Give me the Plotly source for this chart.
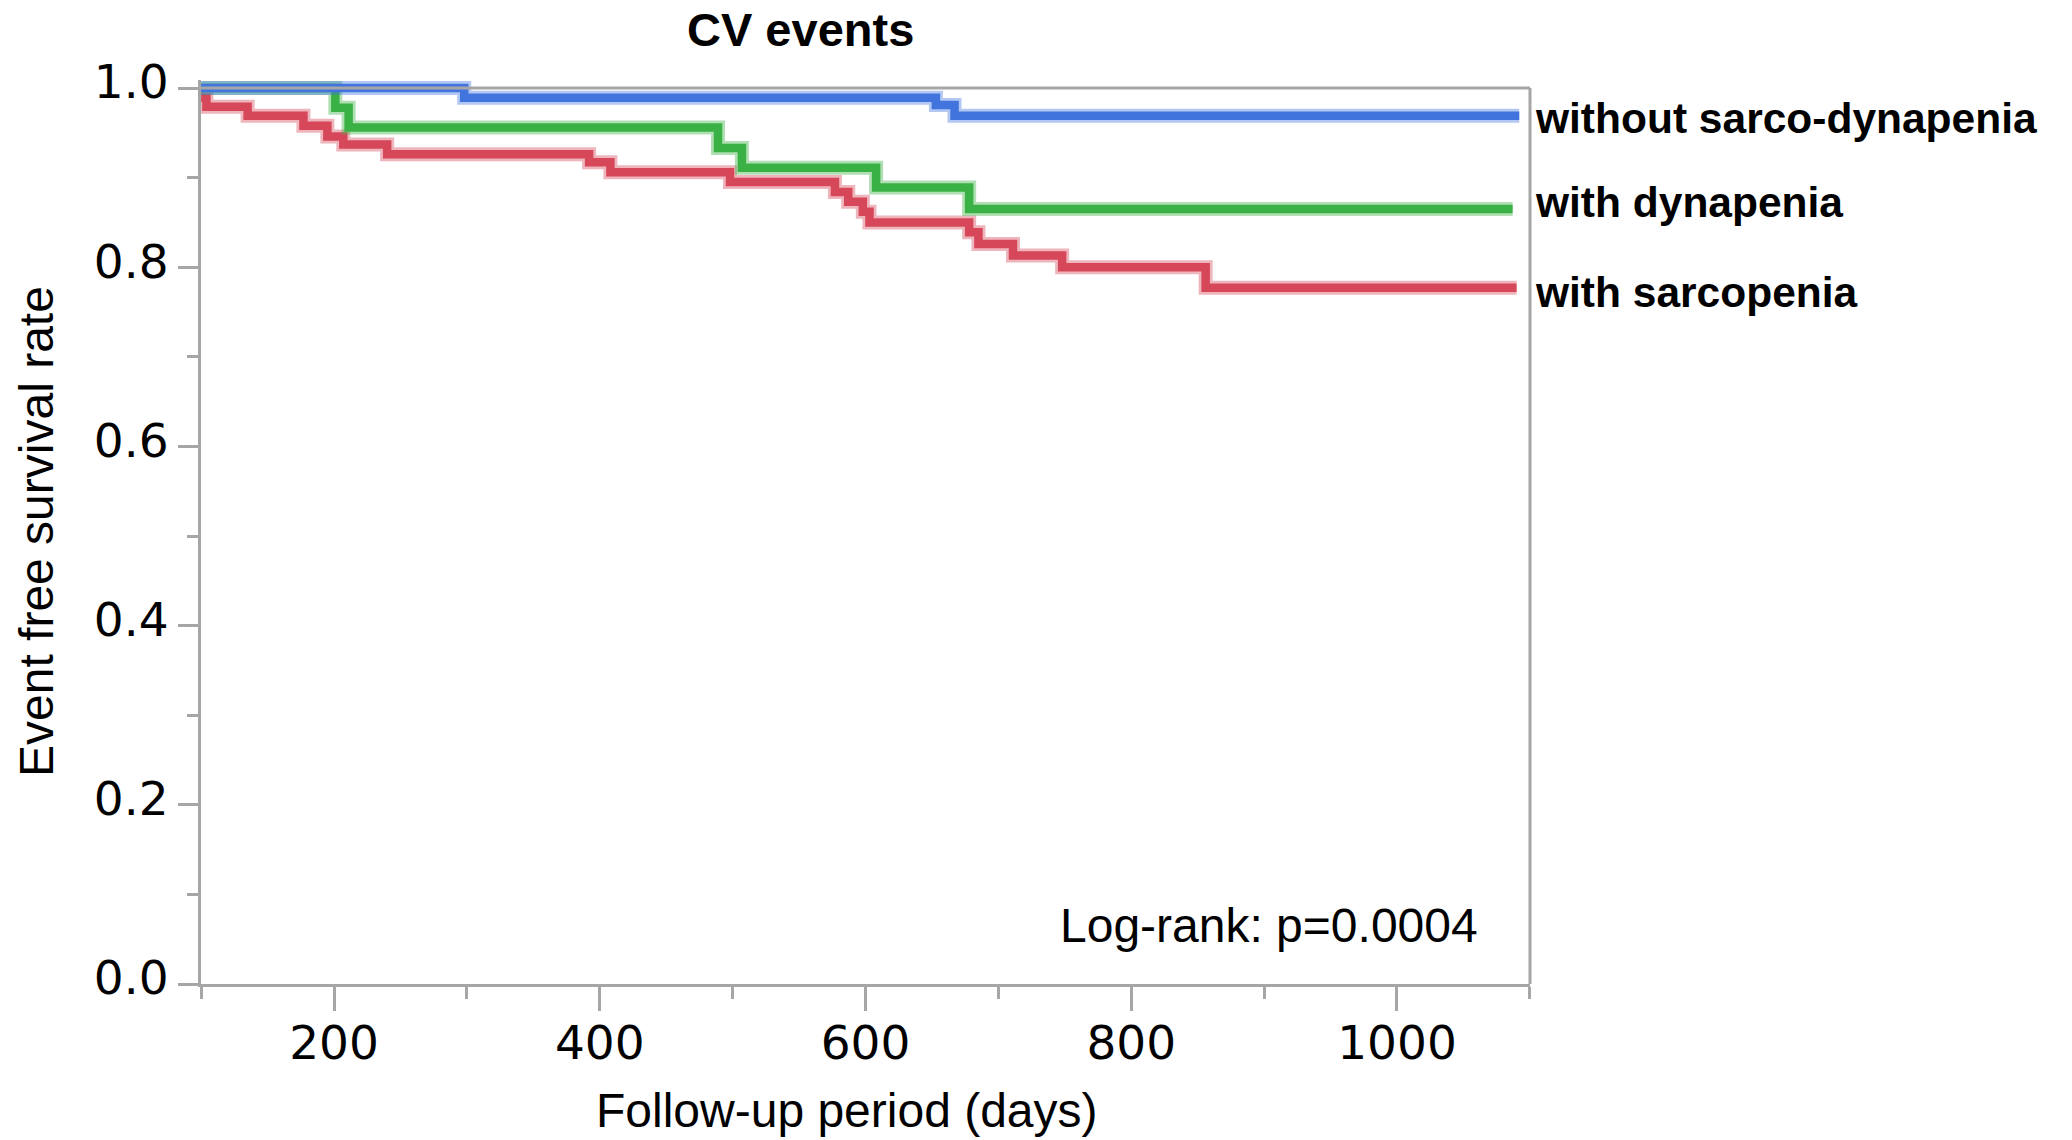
import plotly.graph_objects as go

# ---- data ----
blue_days = [100, 298, 653, 667, 1092]
blue_surv = [1.000, 0.989, 0.981, 0.969, 0.969]

green_days = [100, 201, 211, 489, 507, 608, 678, 1087]
green_surv = [1.000, 0.978, 0.956, 0.933, 0.911, 0.889, 0.865, 0.865]

red_days = [100, 104, 135, 177, 195, 207, 240, 392, 408, 498, 577, 587, 598, 603,
            678, 685, 711, 748, 856, 1090]
red_surv = [0.989, 0.979, 0.969, 0.958, 0.946, 0.937, 0.926, 0.917, 0.906, 0.895,
            0.884, 0.873, 0.862, 0.850, 0.839, 0.826, 0.813, 0.800, 0.777, 0.777]

group_names = ["without sarco-dynapenia", "with dynapenia", "with sarcopenia"]
title_text = "CV events"
x_title = "Follow-up period (days)"
y_title = "Event free survival rate"
logrank_text = "Log-rank: p=0.0004"

# ---- layout geometry (pixels; body margin removed in the page) ----
W, H = 2072, 1140
L, R, T, B = 201, 2072 - 1530, 80, 1140 - 984
PW, PH = W - L - R, H - T - B
Y_TOP = PH / 896.0  # 1.0 lands 896 px above the x axis


def px(X):
    return (X - L) / PW


def py(Y):
    return (H - B - Y) / PH


GRAY = "#a6a6a6"
BLUE = "#4274DE"
GREEN = "#3AB144"
RED = "#D64859"

fig = go.Figure()
for days, surv, col in [(red_days, red_surv, RED), (green_days, green_surv, GREEN),
                        (blue_days, blue_surv, BLUE)]:
    fig.add_trace(go.Scatter(x=days, y=surv, mode="lines", line_shape="hv",
                             line=dict(color=col, width=14), opacity=0.4,
                             hoverinfo="skip", showlegend=False))
    fig.add_trace(go.Scatter(x=days, y=surv, mode="lines", line_shape="hv",
                             line=dict(color=col, width=8.5), showlegend=False))

tickfont = dict(family="DejaVu Sans", size=47, color="#000000")

fig.update_layout(
    width=W, height=H,
    margin=dict(l=L, r=R, t=T, b=B, autoexpand=False),
    paper_bgcolor="white", plot_bgcolor="white",
    xaxis=dict(range=[99.9, 1100.1], tick0=0, dtick=200, showgrid=False, zeroline=False,
               showline=True, linecolor=GRAY, linewidth=3,
               ticks="outside", ticklen=24, tickwidth=3, tickcolor=GRAY,
               tickfont=tickfont, ticklabelstandoff=-8,
               minor=dict(tick0=0, dtick=100, ticks="outside", ticklen=12,
                          tickwidth=3, tickcolor=GRAY, showgrid=False)),
    yaxis=dict(range=[0, Y_TOP], tick0=0, dtick=0.2, tickformat=".1f",
               showgrid=False, zeroline=False,
               showline=True, linecolor=GRAY, linewidth=3,
               ticks="outside", ticklen=20, tickwidth=3, tickcolor=GRAY,
               tickfont=tickfont, ticklabelstandoff=0, ticklabelshift=-6,
               minor=dict(tick0=0, dtick=0.1, ticks="outside", ticklen=11,
                          tickwidth=3, tickcolor=GRAY, showgrid=False)),
    shapes=[
        dict(type="line", xref="paper", yref="y", x0=0, x1=1, y0=1.0, y1=1.0,
             line=dict(color=GRAY, width=3), layer="above"),
        dict(type="line", xref="paper", yref="y", x0=1, x1=1, y0=0, y1=1.0,
             line=dict(color=GRAY, width=3), layer="above"),
    ],
)

ann = []
ann.append(dict(text="<b>" + title_text + "</b>", x=px(800), y=py(29), xref="paper", yref="paper",
                xanchor="center", yanchor="middle", showarrow=False,
                font=dict(family="Liberation Sans", size=47, color="#000000")))
ann.append(dict(text=x_title, x=px(847), y=py(1110), xref="paper", yref="paper",
                xanchor="center", yanchor="middle", showarrow=False,
                font=dict(family="Liberation Sans", size=48, color="#000000")))
ann.append(dict(text=y_title, x=px(36), y=py(532), xref="paper", yref="paper",
                xanchor="center", yanchor="middle", showarrow=False, textangle=-90,
                font=dict(family="Liberation Sans", size=48, color="#000000")))
ann.append(dict(text=logrank_text, x=px(1269), y=py(925), xref="paper", yref="paper",
                xanchor="center", yanchor="middle", showarrow=False,
                font=dict(family="Liberation Sans", size=48, color="#000000")))
for name, yy in zip(group_names, [118, 203, 293]):
    ann.append(dict(text="<b>" + name + "</b>", x=px(1533), y=py(yy), xref="paper",
                    yref="paper", xanchor="left", yanchor="middle", showarrow=False,
                    font=dict(family="Liberation Sans", size=42.5, color="#000000")))
fig.update_layout(annotations=ann)

fig.write_html("out.html", config={"displayModeBar": False},
               post_script="document.body.style.margin='0';")
